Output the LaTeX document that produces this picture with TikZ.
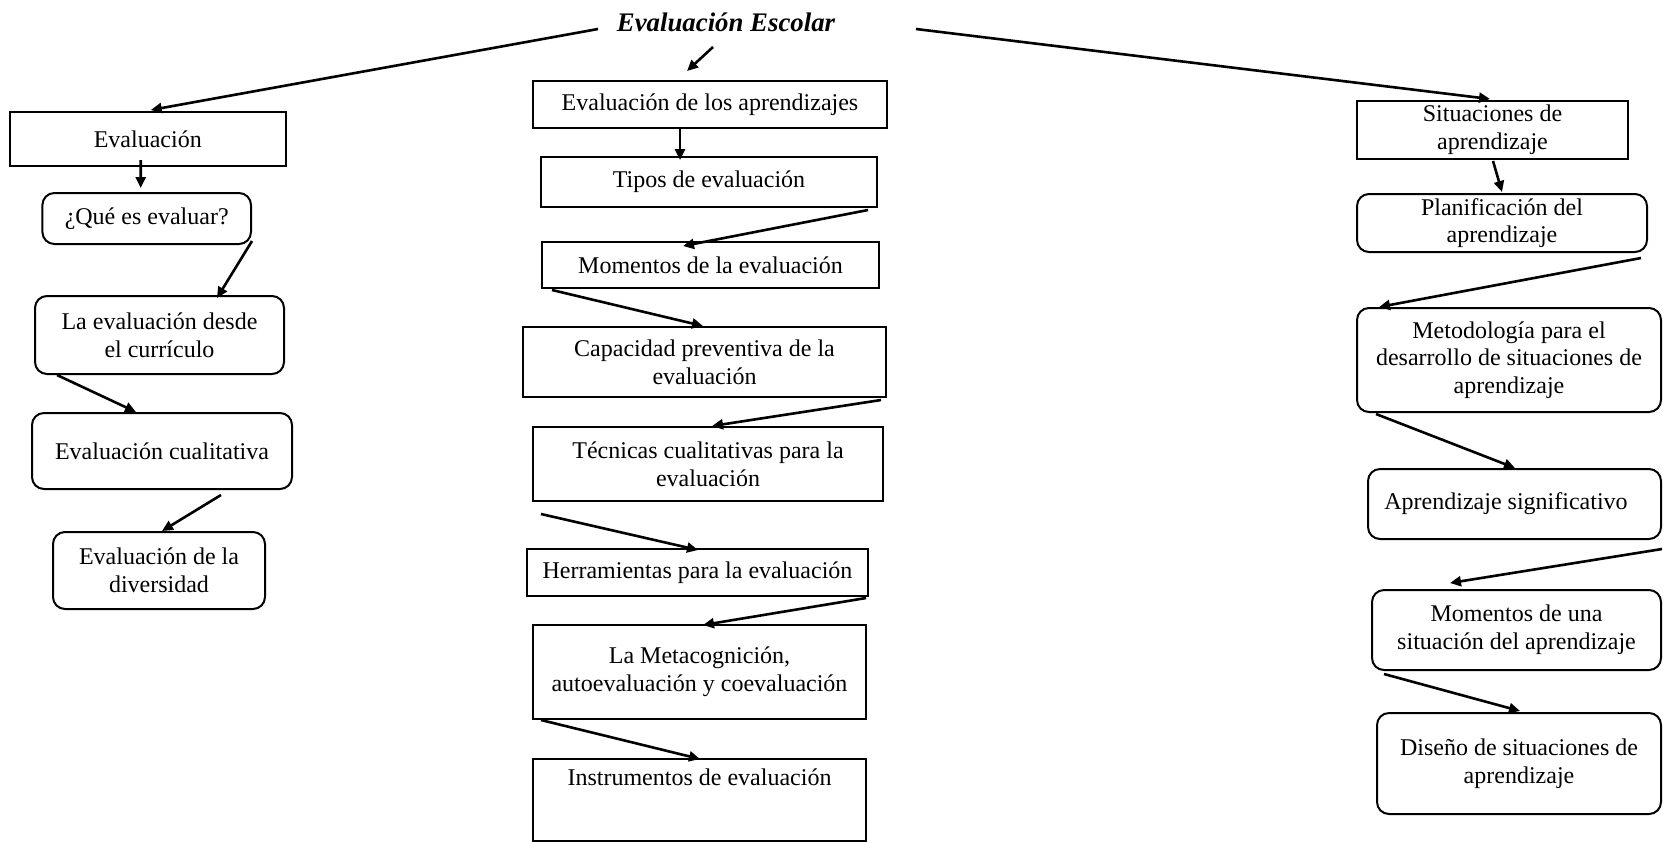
\documentclass[tikz,border=0pt]{standalone}
\usepackage{fontspec}
\setmainfont{Liberation Serif}
\usetikzlibrary{arrows.meta,calc}
\begin{document}
\begin{tikzpicture}[x=0.5pt,y=-0.5pt,
  bx/.style={draw, line width=1pt, inner sep=2pt, align=center, font=\fontsize{12}{13.8}\selectfont},
  rb/.style={bx, rounded corners=6pt},
  ar/.style={line width=1.3pt, -{Triangle[length=5.5pt,width=5pt]}},
  ttl/.style={font=\fontsize{13.4}{15}\selectfont\bfseries\itshape, inner sep=0pt}]
\useasboundingbox (0,0) rectangle (1663,842);

% title
\node[ttl] (title) at (726,22) {Evaluación Escolar};

% left column
\node[bx, minimum width=138.25pt, minimum height=27pt] (ev) at (147.75,139) {Evaluación};
\node[rb, minimum width=104.3pt, minimum height=25.5pt] (que) at (146.7,218.5) {¿Qué es evaluar?};
\node[rb, minimum width=124.5pt, minimum height=39pt] (desde) at (159.5,335) {La evaluación desde\\el currículo};
\node[rb, minimum width=130pt, minimum height=38pt] (cual) at (162,451) {Evaluación cualitativa};
\node[rb, minimum width=106pt, minimum height=38.5pt] (div) at (159,570.5) {Evaluación de la\\diversidad};

% middle column
\node[bx, minimum width=177pt, minimum height=23.5pt] (apr) at (710,104.5) {Evaluación de los aprendizajes};
\node[bx, minimum width=168pt, minimum height=25pt] (tip) at (709,182) {Tipos de evaluación};
\node[bx, minimum width=168.5pt, minimum height=23pt] (mom) at (710.5,265) {Momentos de la evaluación};
\node[bx, minimum width=181.5pt, minimum height=35pt] (cap) at (704.5,362) {Capacidad preventiva de la\\evaluación};
\node[bx, minimum width=175pt, minimum height=37pt] (tec) at (708,464) {Técnicas cualitativas para la\\evaluación};
\node[bx, minimum width=170.5pt, minimum height=23.5pt] (her) at (697.5,572.5) {Herramientas para la evaluación};
\node[bx, minimum width=166.5pt, minimum height=47pt] (met) at (699.5,672) {La Metacognición,\\autoevaluación y coevaluación};
\node[bx, minimum width=166.5pt, minimum height=41pt] (ins) at (699.5,800) {};
\node[font=\fontsize{12}{13.8}\selectfont, anchor=base, inner sep=0pt] (insT) at ($(ins.north)+(0,27)$) {Instrumentos de evaluación};

% right column
\node[bx, minimum width=135.5pt, minimum height=29pt] (sit) at (1492.5,130) {Situaciones de\\aprendizaje};
\node[rb, minimum width=145pt, minimum height=29pt] (pla) at (1502,223) {Planificación del\\aprendizaje};
\node[rb, minimum width=152pt, minimum height=52pt] (meto) at (1509,360) {Metodología para el\\desarrollo de situaciones de\\aprendizaje};
\node[rb, minimum width=146.5pt, minimum height=35pt] (sig) at (1514.5,504) {Aprendizaje significativo\hspace*{8.5pt}};
\node[rb, minimum width=144.5pt, minimum height=40pt] (mu) at (1516.5,630) {Momentos de una\\situación del aprendizaje};
\node[rb, minimum width=142pt, minimum height=50.5pt] (dis) at (1519,763.5) {Diseño de situaciones de\\aprendizaje};

% arrows from title
\draw[ar] ($(title.center)+(-128,7)$) -- ($(ev.north)+(3,-1)$);
\draw[ar] ($(title.center)+(-13,25)$) -- ($(apr.north)+(-23,-9)$);
\draw[ar] ($(title.center)+(190,7)$) -- ($(sit.north)+(-2.5,-1)$);

% left arrows
\draw[ar] ($(ev.south)+(-7,-7)$) -- ($(que.north)+(-6,-4)$);
\draw[ar] ($(que.south east)+(0,-4)$) -- ($(desde.north)+(57.5,3)$);
\draw[ar] ($(desde.south west)+(23,0)$) -- ($(cual.north)+(-26,0)$);
\draw[ar] ($(cual.south)+(59,5)$) -- ($(div.north)+(3,0)$);

% middle arrows
\draw[ar] ($(apr.south)+(-30,-1)$) -- ($(tip.north)+(-29,4)$);
\draw[ar] ($(tip.south east)+(-10,2)$) -- ($(mom.north)+(-27.5,5)$);
\draw[ar] ($(mom.south west)+(11,1)$) -- ($(cap.north)+(-1.5,0)$);
\draw[ar] ($(cap.south east)+(-6,2)$) -- ($(tec.north)+(4,0)$);
\draw[ar] ($(tec.south west)+(9,12)$) -- ($(her.north)+(0.5,2)$);
\draw[ar] ($(her.south east)+(-3,1)$) -- ($(met.north)+(3.5,1)$);
\draw[ar] ($(met.south west)+(9,0)$) -- ($(ins.north)+(0.5,1)$);

% right arrows
\draw[ar] ($(sit.south)+(0.5,1)$) -- ($(pla.north)+(0,-1)$);
\draw[ar] ($(pla.south east)+(-7,5)$) -- ($(meto.north west)+(23,0)$);
\draw[ar] ($(meto.south west)+(20,1)$) -- ($(sig.north)+(0.5,0)$);
\draw[ar] ($(sig.south east)+(0,9)$) -- ($(mu.north)+(-66.5,-6)$);
\draw[ar] ($(mu.south west)+(13,3)$) -- ($(dis.north)+(1,-1)$);
\end{tikzpicture}
\end{document}
